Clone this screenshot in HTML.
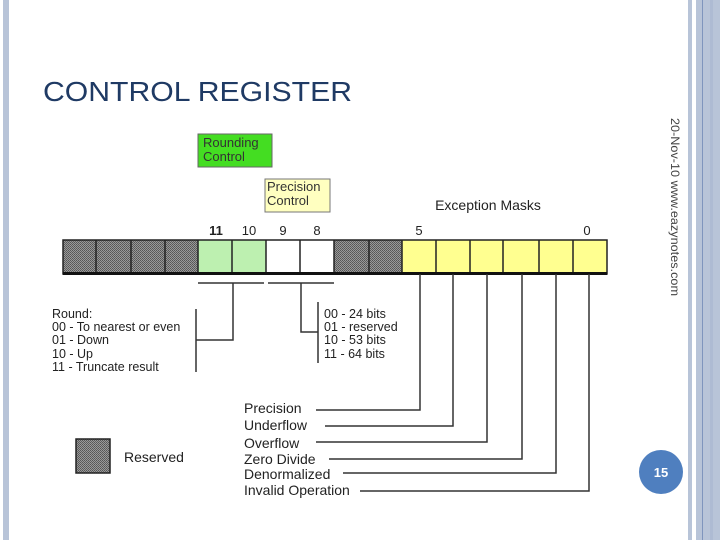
<!DOCTYPE html>
<html><head><meta charset="utf-8"><style>
body{margin:0;width:720px;height:540px;background:#fff;overflow:hidden;font-family:"Liberation Sans",sans-serif}
</style></head><body>
<svg width="720" height="540" xmlns="http://www.w3.org/2000/svg" font-family="Liberation Sans, sans-serif">
<defs>
<pattern id="dot" width="2" height="2" patternUnits="userSpaceOnUse">
<rect width="2" height="2" fill="#999"/><rect width="1" height="1" fill="#555"/><rect x="1" y="1" width="1" height="1" fill="#5f5f5f"/>
</pattern>
</defs>
<rect x="3" y="0" width="6" height="540" fill="#b8c4d8"/>
<rect x="688" y="0" width="4" height="540" fill="#b8c4d8"/>
<rect x="696" y="0" width="24" height="540" fill="#b8c4d8"/>
<rect x="702" y="0" width="1" height="540" fill="#7f95bd"/>
<rect x="710" y="0" width="3" height="540" fill="#aebbd3"/>
<text x="43" y="101" font-size="28" fill="#1f3a64" textLength="309" lengthAdjust="spacingAndGlyphs">CONTROL REGISTER</text>
<text transform="translate(671,118) rotate(90)" font-size="12" fill="#444" textLength="178" lengthAdjust="spacingAndGlyphs">20-Nov-10    www.eazynotes.com</text>
<rect x="198" y="134" width="74" height="33" fill="#44dd22" stroke="#666" stroke-width="1"/>
<text x="203" y="147" font-size="13" fill="#333">Rounding</text>
<text x="203" y="161" font-size="13" fill="#333">Control</text>
<rect x="265" y="179" width="65" height="33" fill="#ffffc0" stroke="#777" stroke-width="1"/>
<text x="267" y="191" font-size="13" fill="#333">Precision</text>
<text x="267" y="205" font-size="13" fill="#333">Control</text>
<text x="488" y="210" font-size="14" text-anchor="middle" fill="#222">Exception Masks</text>
<g font-size="13" fill="#222" text-anchor="middle">
<text x="216" y="235" font-weight="bold">11</text><text x="249" y="235">10</text><text x="283" y="235">9</text><text x="317" y="235">8</text><text x="419" y="235">5</text><text x="587" y="235">0</text>
</g>
<rect x="63" y="240" width="135" height="33" fill="url(#dot)"/>
<rect x="198" y="240" width="68" height="33" fill="#bdf0b0"/>
<rect x="266" y="240" width="68" height="33" fill="#fff"/>
<rect x="334" y="240" width="68" height="33" fill="url(#dot)"/>
<rect x="402" y="240" width="205" height="33" fill="#ffff90"/>
<path d="M96 240v33M131 240v33M165 240v33M198 240v33M232 240v33M266 240v33M300 240v33M334 240v33M369 240v33M402 240v33M436 240v33M470 240v33M503 240v33M539 240v33M573 240v33" fill="none" stroke="#222" stroke-width="1.5"/>
<rect x="63" y="240" width="544" height="34" fill="none" stroke="#222" stroke-width="1.5"/>
<rect x="63" y="272" width="544" height="3" fill="#111"/>
<g stroke="#333" stroke-width="1.5" fill="none">
<path d="M198 283H264M268 283H334"/>
<path d="M233 283V340H196M196 309V372"/>
<path d="M301 283V332H318M318 302V363"/>
<path d="M420 274V410H316M453 274V426H325M487 274V442H316M522 274V459H329M556 274V473H343M589 274V491H360"/>
</g>
<g font-size="12.5" fill="#222">
<text x="52" y="318">Round:</text>
<text x="52" y="331">00 - To nearest or even</text>
<text x="52" y="344">01 - Down</text>
<text x="52" y="358">10 - Up</text>
<text x="52" y="371">11 - Truncate result</text>
<text x="324" y="318">00 - 24 bits</text>
<text x="324" y="331">01 - reserved</text>
<text x="324" y="344">10 - 53 bits</text>
<text x="324" y="358">11 - 64 bits</text>
</g>
<g font-size="14" fill="#222">
<text x="244" y="413">Precision</text>
<text x="244" y="430">Underflow</text>
<text x="244" y="448">Overflow</text>
<text x="244" y="464">Zero Divide</text>
<text x="244" y="479">Denormalized</text>
<text x="244" y="495">Invalid Operation</text>
<text x="124" y="462">Reserved</text>
</g>
<rect x="76" y="439" width="34" height="34" fill="url(#dot)" stroke="#222" stroke-width="1.5"/>
<circle cx="661" cy="472" r="22" fill="#4f7fbf"/>
<text x="661" y="477" font-size="13" font-weight="bold" fill="#fff" text-anchor="middle">15</text>
</svg>
</body></html>
